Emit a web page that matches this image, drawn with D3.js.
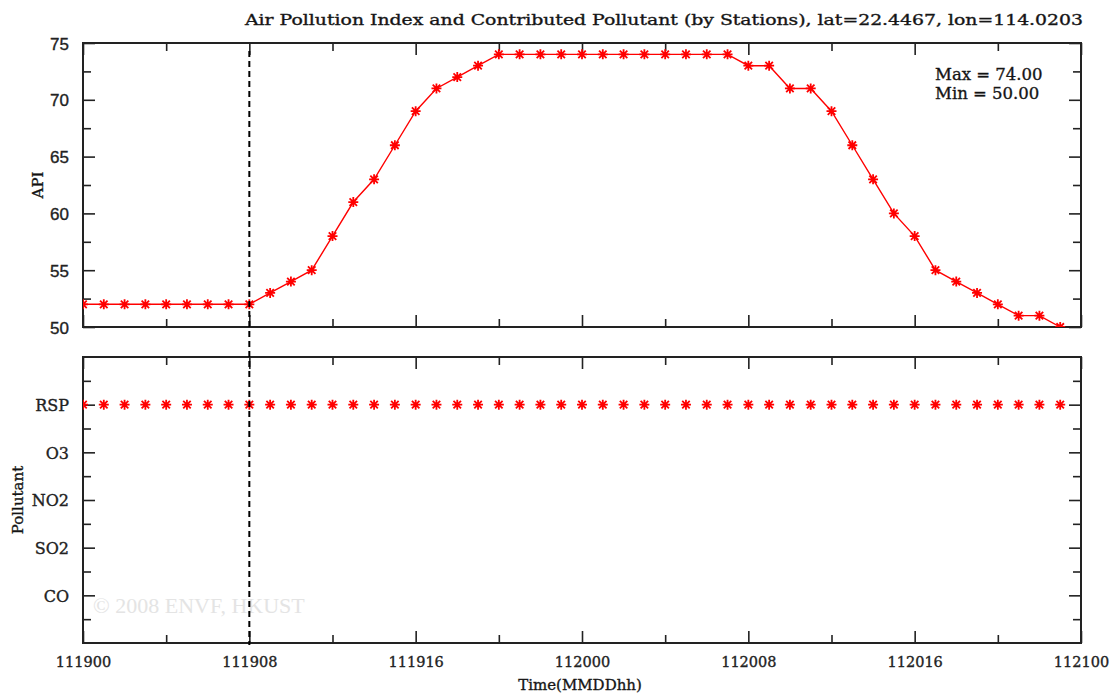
<!DOCTYPE html>
<html>
<head>
<meta charset="utf-8">
<script src="https://cdn.jsdelivr.net/npm/d3@7"></script>
<style>
  body { margin: 0; background: #fff; }
  svg { display: block; }
  text { stroke: #222; stroke-width: 0.35px; }
  .wm { stroke: none; }
</style>
</head>
<body>
<div id="chart"></div>
<script>
// Hourly samples, 111900 .. 112023 (MMDDhh)
const timeStamps = [
  '111900','111901','111902','111903','111904','111905','111906','111907',
  '111908','111909','111910','111911','111912','111913','111914','111915',
  '111916','111917','111918','111919','111920','111921','111922','111923',
  '112000','112001','112002','112003','112004','112005','112006','112007',
  '112008','112009','112010','112011','112012','112013','112014','112015',
  '112016','112017','112018','112019','112020','112021','112022','112023'
];
const apiValues = [
  52, 52, 52, 52, 52, 52, 52, 52,
  52, 53, 54, 55, 58, 61, 63, 66,
  69, 71, 72, 73, 74, 74, 74, 74,
  74, 74, 74, 74, 74, 74, 74, 74,
  73, 73, 71, 71, 69, 66, 63, 60,
  58, 55, 54, 53, 52, 51, 51, 50
];
const pollutantValues = [
  'RSP','RSP','RSP','RSP','RSP','RSP','RSP','RSP',
  'RSP','RSP','RSP','RSP','RSP','RSP','RSP','RSP',
  'RSP','RSP','RSP','RSP','RSP','RSP','RSP','RSP',
  'RSP','RSP','RSP','RSP','RSP','RSP','RSP','RSP',
  'RSP','RSP','RSP','RSP','RSP','RSP','RSP','RSP',
  'RSP','RSP','RSP','RSP','RSP','RSP','RSP','RSP'
];
const pollutants = ['CO', 'SO2', 'NO2', 'O3', 'RSP'];
const xTickLabels = ['111900', '111908', '111916', '112000', '112008', '112016', '112100'];
const apiTicks = [50, 55, 60, 65, 70, 75];
const markerTime = '111908';

const width = 1113, height = 695;
const left = 83, right = 1081;
const top1 = 43, bottom1 = 327;
const top2 = 357, bottom2 = 643;

const svg = d3.select('#chart').append('svg')
  .attr('width', width)
  .attr('height', height)
  .style('font-family', 'DejaVu Serif');

// x: hours from the first stamp, labelled every 8 hours
const x = d3.scaleLinear().domain([0, 48]).range([left, right]);
const hourOf = (t) => timeStamps.indexOf(t);
const majorX = xTickLabels.map((d, i) => i * 8);
const minorX = majorX.slice(0, -1).map((d) => d + 4);

const yApi = d3.scaleLinear().domain([50, 75]).range([bottom1, top1]);
const yPol = d3.scaleLinear().domain([0, 6]).range([bottom2, top2]);

const defs = svg.append('defs');
defs.append('clipPath').attr('id', 'clip1').append('rect')
  .attr('x', left).attr('y', top1).attr('width', right - left).attr('height', bottom1 - top1);
defs.append('clipPath').attr('id', 'clip2').append('rect')
  .attr('x', left).attr('y', top2).attr('width', right - left).attr('height', bottom2 - top2);

// watermark
svg.append('text')
  .attr('class', 'wm')
  .attr('x', 93).attr('y', 613)
  .style('font-family', 'Liberation Serif')
  .style('font-size', '22px')
  .style('fill', '#e4e4e4')
  .text('\u00a9 2008 ENVF, HKUST');

// star marker: + and x
const star = (g, r) => {
  g.append('path')
    .attr('d', `M${-r},0H${r}M0,${-r}V${r}M${-r*0.75},${-r*0.75}L${r*0.75},${r*0.75}M${-r*0.75},${r*0.75}L${r*0.75},${-r*0.75}`)
    .style('stroke', 'red').style('stroke-width', 1.8).style('fill', 'none');
};

function frame(yScale, yTop, yBottom, majorY, minorY, yFormat) {
  const g = svg.append('g').attr('class', 'frame');
  const styleAxis = (a) => {
    a.select('.domain').remove();
    a.selectAll('line').style('stroke', '#222').style('stroke-width', 1.6);
  };
  // bottom / top x ticks
  g.append('g').attr('transform', `translate(0,${yBottom})`)
    .call(d3.axisBottom(x).tickValues(majorX).tickSize(-12).tickFormat('')).call(styleAxis);
  g.append('g').attr('transform', `translate(0,${yBottom})`)
    .call(d3.axisBottom(x).tickValues(minorX).tickSize(-8).tickFormat('')).call(styleAxis);
  g.append('g').attr('transform', `translate(0,${yTop})`)
    .call(d3.axisTop(x).tickValues(majorX).tickSize(-12).tickFormat('')).call(styleAxis);
  g.append('g').attr('transform', `translate(0,${yTop})`)
    .call(d3.axisTop(x).tickValues(minorX).tickSize(-8).tickFormat('')).call(styleAxis);
  // left / right y ticks
  const yl = g.append('g').attr('transform', `translate(${left},0)`)
    .call(d3.axisLeft(yScale).tickValues(majorY).tickSize(-12).tickPadding(14).tickFormat(yFormat));
  styleAxis(yl);
  g.append('g').attr('transform', `translate(${left},0)`)
    .call(d3.axisLeft(yScale).tickValues(minorY).tickSize(-8).tickFormat('')).call(styleAxis);
  g.append('g').attr('transform', `translate(${right},0)`)
    .call(d3.axisRight(yScale).tickValues(majorY).tickSize(-12).tickFormat('')).call(styleAxis);
  g.append('g').attr('transform', `translate(${right},0)`)
    .call(d3.axisRight(yScale).tickValues(minorY).tickSize(-8).tickFormat('')).call(styleAxis);
  g.append('rect')
    .attr('x', left).attr('y', yTop).attr('width', right - left).attr('height', yBottom - yTop)
    .style('fill', 'none').style('stroke', '#222').style('stroke-width', 2);
  return yl;
}

// ---- top panel: API ----
const apiMinor = apiTicks.slice(0, -1).map((d) => d + 2.5);
const yl1 = frame(yApi, top1, bottom1, apiTicks, apiMinor, d3.format('d'));
yl1.selectAll('text')
  .style('font-family', 'Liberation Sans').style('font-size', '17px').style('fill', '#222')
  .attr('dy', '0.36em');

const plot1 = svg.append('g').attr('clip-path', 'url(#clip1)');
const line = d3.line()
  .x((d, i) => x(hourOf(timeStamps[i])))
  .y((d) => yApi(d));
plot1.append('path')
  .datum(apiValues)
  .attr('d', line)
  .style('fill', 'none').style('stroke', 'red').style('stroke-width', 1.4);
plot1.selectAll('g.pt').data(apiValues).join('g')
  .attr('class', 'pt')
  .attr('transform', (d, i) => `translate(${x(hourOf(timeStamps[i]))},${yApi(d)})`)
  .each(function () { star(d3.select(this), 5); });

// ---- bottom panel: pollutant ----
const polMajor = pollutants.map((d, i) => i + 1);
const polMinor = [0.5, 1.5, 2.5, 3.5, 4.5, 5.5];
const yl2 = frame(yPol, top2, bottom2, polMajor, polMinor, (d) => pollutants[d - 1]);
yl2.selectAll('text')
  .style('font-family', 'DejaVu Serif').style('font-size', '16px').style('fill', '#222')
  .attr('dy', '0.36em');

const plot2 = svg.append('g').attr('clip-path', 'url(#clip2)');
plot2.selectAll('g.pt').data(pollutantValues).join('g')
  .attr('class', 'pt')
  .attr('transform', (d, i) => `translate(${x(hourOf(timeStamps[i]))},${yPol(pollutants.indexOf(d) + 1)})`)
  .each(function () { star(d3.select(this), 5); });

// x tick labels under bottom panel
svg.append('g').attr('transform', `translate(0,${bottom2})`)
  .call(d3.axisBottom(x).tickValues(majorX).tickSize(0).tickPadding(14)
    .tickFormat((d, i) => xTickLabels[i]))
  .call((a) => a.select('.domain').remove())
  .selectAll('text')
  .style('font-family', 'DejaVu Serif').style('font-size', '14.5px').style('fill', '#222');

// dashed line at current time
svg.append('line')
  .attr('x1', x(hourOf(markerTime))).attr('x2', x(hourOf(markerTime)))
  .attr('y1', top1 + 8).attr('y2', bottom2 + 2)
  .style('stroke', '#000').style('stroke-width', 2).style('stroke-dasharray', '6,4');

// titles
svg.append('text')
  .attr('x', 1083).attr('y', 25).attr('text-anchor', 'end')
  .attr('textLength', 838).attr('lengthAdjust', 'spacingAndGlyphs')
  .style('font-family', 'DejaVu Serif').style('font-size', '14px').style('fill', '#111')
  .text('Air Pollution Index and Contributed Pollutant (by Stations), lat=22.4467, lon=114.0203');

const maxMin = svg.append('g').style('font-family', 'DejaVu Serif').style('font-size', '16.5px').style('fill', '#111');
maxMin.append('text').attr('x', 935).attr('y', 80).text(`Max = ${d3.max(apiValues).toFixed(2)}`);
maxMin.append('text').attr('x', 935).attr('y', 99).text(`Min = ${d3.min(apiValues).toFixed(2)}`);

svg.append('text')
  .attr('transform', 'translate(43,185) rotate(-90)').attr('text-anchor', 'middle')
  .style('font-family', 'DejaVu Serif').style('font-size', '15px').style('fill', '#111')
  .text('API');
svg.append('text')
  .attr('transform', 'translate(23,500) rotate(-90)').attr('text-anchor', 'middle')
  .style('font-family', 'DejaVu Serif').style('font-size', '15px').style('fill', '#111')
  .text('Pollutant');
svg.append('text')
  .attr('x', 580).attr('y', 690).attr('text-anchor', 'middle')
  .style('font-family', 'DejaVu Serif').style('font-size', '15px').style('fill', '#111')
  .text('Time(MMDDhh)');
</script>
</body>
</html>
